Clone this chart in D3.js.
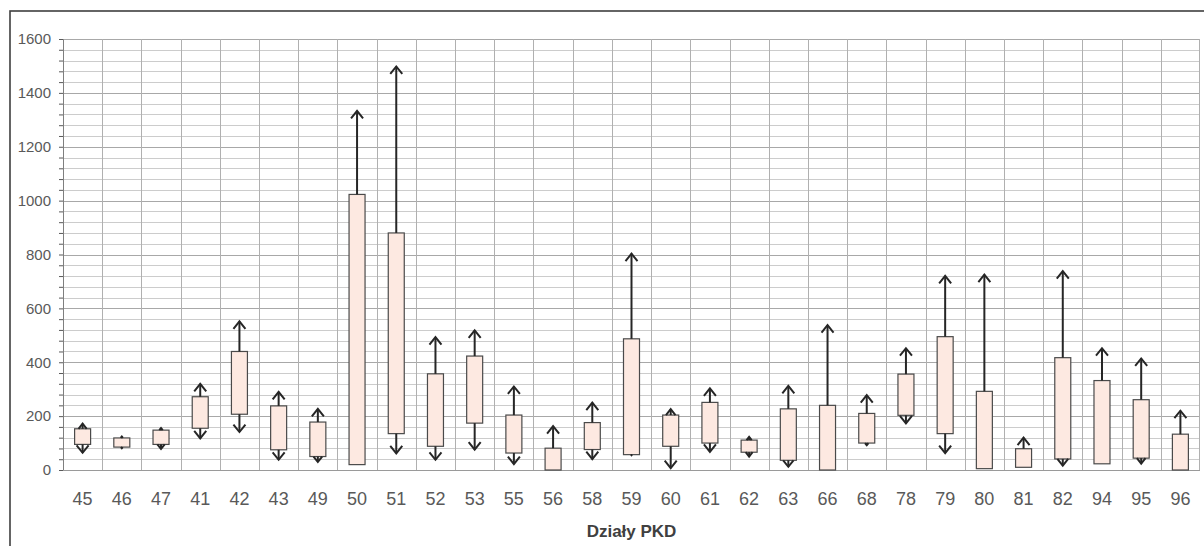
<!DOCTYPE html>
<html>
<head>
<meta charset="utf-8">
<script src="https://cdn.jsdelivr.net/npm/d3@7"></script>
<style>
  body { margin: 0; background: #fff; }
  text { font-family: "Liberation Sans", "DejaVu Sans", sans-serif; }
</style>
</head>
<body>
<div id="chart"></div>
<script>
var w = 1204;
var h = 546;

var margin = {
  top: 39,
  bottom: 76,
  left: 63,
  right: 4
}

var width = w - margin.left - margin.right;
var height = h - margin.top - margin.bottom;

// działy PKD
var categories = ["45", "46", "47", "41", "42", "43", "49", "50", "51", "52", "53", "55", "56", "58", "59",
  "60", "61", "62", "63", "66", "68", "78", "79", "80", "81", "82", "94", "95", "96"];
var boxLow = [95, 85, 95, 155, 207, 75, 50, 20, 135, 88, 174, 63, 0, 76, 57,
  88, 100, 66, 36, 0, 100, 203, 135, 5, 10, 41, 23, 44, 0];
var boxHigh = [153, 119, 148, 272, 440, 238, 178, 1023, 880, 357, 423, 204, 81, 176, 487,
  204, 251, 111, 227, 240, 210, 356, 495, 292, 79, 417, 332, 261, 133];
var whiskerLow = [64, 81, 78, 117, 141, 38, 30, 20, 62, 38, 76, 22, 0, 40, 55,
  7, 67, 50, 12, 0, 92, 173, 63, 5, 10, 16, 23, 24, 0];
var whiskerHigh = [172, 124, 156, 320, 552, 290, 227, 1333, 1498, 493, 518, 310, 163, 250, 803,
  226, 303, 123, 312, 538, 278, 452, 721, 725, 120, 738, 452, 414, 220];
var yTicks = [0, 200, 400, 600, 800, 1000, 1200, 1400, 1600];
var xTitle = "Działy PKD";

var data = categories.map(function (c, i) {
  return {
    cat: c,
    q1: boxLow[i],
    q3: boxHigh[i],
    lo: whiskerLow[i],
    hi: whiskerHigh[i]
  };
});

var x = d3.scaleBand().domain(categories).range([0, width]).paddingInner(0).paddingOuter(0);
var y = d3.scaleLinear().domain([0, 1600]).range([height, 0]);
var minor = d3.range(0, 1601, 40);

var svg = d3.select("#chart").append("svg")
  .attr("width", w)
  .attr("height", h);

// outer frame (cut off on the right and bottom)
svg.append("rect")
  .attr("x", 10).attr("y", 11)
  .attr("width", 1300).attr("height", 700)
  .attr("fill", "none")
  .attr("stroke", "#3f3f3f")
  .attr("stroke-width", 1.6);

var chart = svg.append("g").attr("transform", "translate(" + margin.left + "," + margin.top + ")");

// horizontal grid
chart.append("g").selectAll("line")
  .data(minor)
  .join("line")
  .attr("x1", 0).attr("x2", width)
  .attr("y1", function (d) { return Math.round(y(d)) + 0.5; })
  .attr("y2", function (d) { return Math.round(y(d)) + 0.5; })
  .attr("stroke", function (d) { return d % 200 == 0 ? "#a8a8a8" : "#cccccc"; })
  .attr("stroke-width", 1);

// vertical grid at category borders
chart.append("g").selectAll("line")
  .data(categories.slice(1).concat(["end"]))
  .join("line")
  .attr("x1", function (d) { return d == "end" ? width - 0.5 : Math.round(x(d)) + 0.5; })
  .attr("x2", function (d) { return d == "end" ? width - 0.5 : Math.round(x(d)) + 0.5; })
  .attr("y1", 0).attr("y2", height)
  .attr("stroke", "#b0b0b0")
  .attr("stroke-width", 1);

// y axis
var yAxis = chart.append("g")
  .call(d3.axisLeft(y).tickValues(minor).tickSize(4).tickFormat(function (d) {
    return yTicks.indexOf(d) >= 0 ? d : "";
  }));
yAxis.select(".domain").attr("stroke", "#7f7f7f");
yAxis.selectAll(".tick line").attr("stroke", "#595959");
yAxis.selectAll("text")
  .attr("x", -12)
  .attr("fill", "#595959")
  .style("font-size", "15px");

// baseline
chart.append("line")
  .attr("x1", 0).attr("x2", width)
  .attr("y1", height + 0.5).attr("y2", height + 0.5)
  .attr("stroke", "#9a9a9a");

// x labels
var xAxis = chart.append("g")
  .attr("transform", "translate(0," + height + ")")
  .call(d3.axisBottom(x).tickSize(0).tickPadding(22));
xAxis.select(".domain").remove();
xAxis.selectAll("text")
  .attr("fill", "#595959")
  .style("font-size", "18px");

svg.append("text")
  .attr("x", margin.left + width / 2)
  .attr("y", 537)
  .attr("text-anchor", "middle")
  .attr("fill", "#404040")
  .style("font-size", "17px")
  .style("font-weight", "bold")
  .text(xTitle);

var bw = 16;

// boxes
chart.selectAll("rect.box")
  .data(data)
  .join("rect")
  .attr("class", "box")
  .attr("x", function (d) { return x(d.cat) + x.bandwidth() / 2 - bw / 2; })
  .attr("y", function (d) { return y(d.q3); })
  .attr("width", bw)
  .attr("height", function (d) { return y(d.q1) - y(d.q3); })
  .style("fill", "#fde9e1")
  .style("stroke", "#4a4a4a")
  .style("stroke-width", 1.2);

// whiskers with arrows
function arrow(g, cx, from, to, dir) {
  var len = Math.abs(y(from) - y(to));
  if (len < 0.5) return;
  g.append("line")
    .attr("x1", cx).attr("x2", cx)
    .attr("y1", y(from)).attr("y2", y(to))
    .attr("stroke", "#262626")
    .attr("stroke-width", 2);
  var ah = Math.min(7.5, len);
  var aw = Math.min(6, len * 0.8);
  var tip = y(to);
  g.append("path")
    .attr("d", "M" + (cx - aw) + "," + (tip + dir * ah) + "L" + cx + "," + tip + "L" + (cx + aw) + "," + (tip + dir * ah))
    .attr("fill", "none")
    .attr("stroke", "#262626")
    .attr("stroke-width", 2)
    .attr("stroke-linejoin", "miter");
}

var wg = chart.append("g");
data.forEach(function (d) {
  var cx = x(d.cat) + x.bandwidth() / 2;
  arrow(wg, cx, d.q3, d.hi, 1);
  arrow(wg, cx, d.q1, d.lo, -1);
});
</script>
</body>
</html>
